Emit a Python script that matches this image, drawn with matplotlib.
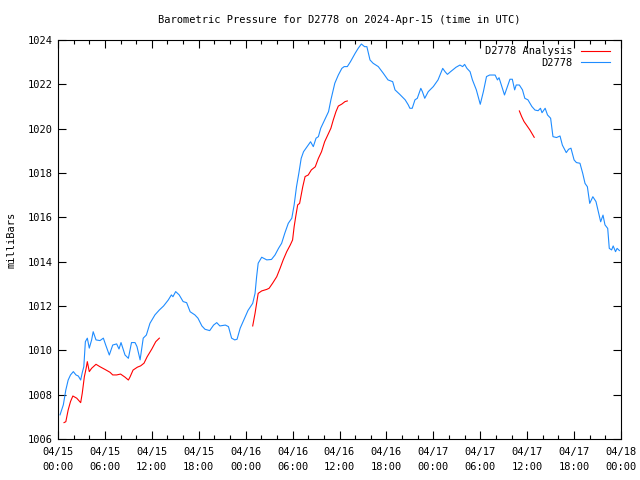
import matplotlib
matplotlib.use("Agg")
import matplotlib.pyplot as plt
from matplotlib.ticker import MultipleLocator

# hours since 2024-04-15 00:00 UTC, pressure in mb
obs_hours = [0.26, 0.68, 1.0, 1.3, 1.6, 1.96, 2.3, 2.6, 2.9, 3.1, 3.3, 3.5, 3.75, 4.0, 4.3,
             4.5, 4.86, 5.37, 5.8, 6.1, 6.56, 7.0, 7.5, 7.8, 8.06, 8.57, 9.0, 9.4, 9.85, 10.1,
             10.5, 10.9, 11.3, 11.76, 12.4, 12.96, 13.5, 14.1, 14.5, 14.7, 15.05, 15.5, 16.0,
             16.45, 16.9, 17.5, 17.9, 18.4, 18.8, 19.4, 19.9, 20.3, 20.7, 21.4, 21.8, 22.2,
             22.6, 22.9, 23.3, 23.8, 24.3, 24.9, 25.2, 25.4, 25.6, 26.05, 26.7, 27.3, 27.75,
             28.2, 28.6, 29.0, 29.45, 29.9, 30.2, 30.5, 30.8, 31.1, 31.4, 32.0, 32.3, 32.65,
             33.0, 33.3, 33.6, 34.1, 34.6, 34.9, 35.4, 35.85, 36.3, 36.6, 37.0, 37.4, 38.0,
             38.4, 38.8, 39.2, 39.5, 39.9, 40.3, 40.96, 41.6, 42.2, 42.8, 43.1, 43.7, 44.4,
             44.8, 45.0, 45.3, 45.65, 45.95, 46.4, 46.6, 46.9, 47.35, 48.0, 48.6, 49.2, 49.5,
             49.8, 50.2, 50.9, 51.4, 51.75, 52.0, 52.3, 52.7, 53.0, 53.5, 54.0, 54.4, 54.8,
             55.2, 55.9, 56.2, 56.4, 56.7, 57.1, 57.4, 57.8, 58.1, 58.4, 58.6, 59.0, 59.4,
             59.7, 60.1, 60.6, 61.0, 61.4, 61.7, 61.9, 62.3, 62.6, 63.0, 63.3, 63.75, 64.2,
             64.5, 65.0, 65.3, 65.6, 66.0, 66.3, 66.75, 67.1, 67.4, 67.7, 68.0, 68.4, 68.8,
             69.1, 69.4, 69.7, 69.95, 70.3, 70.5, 70.8, 71.0, 71.3, 71.5, 71.8]
obs_mb = [1007.09, 1007.54, 1008.21, 1008.66, 1008.89, 1009.04, 1008.89, 1008.84, 1008.66,
          1008.99, 1009.26, 1010.39, 1010.55, 1010.1, 1010.47, 1010.84, 1010.47, 1010.44,
          1010.55, 1010.24, 1009.79, 1010.24, 1010.29, 1010.06, 1010.35, 1009.79, 1009.64,
          1010.35, 1010.35, 1010.17, 1009.57, 1010.55, 1010.69, 1011.22, 1011.6, 1011.82,
          1012.0, 1012.27, 1012.5, 1012.42, 1012.65, 1012.5, 1012.2, 1012.15, 1011.74,
          1011.6, 1011.45, 1011.1, 1010.95, 1010.89, 1011.14, 1011.25, 1011.1, 1011.14,
          1011.07, 1010.55, 1010.47, 1010.5, 1011.0, 1011.4, 1011.8, 1012.12, 1012.57,
          1013.32, 1013.93, 1014.2, 1014.08, 1014.1, 1014.3, 1014.6, 1014.83, 1015.28,
          1015.73, 1015.96, 1016.56, 1017.38, 1017.99, 1018.66, 1018.96, 1019.26, 1019.41,
          1019.19, 1019.57, 1019.64, 1020.02, 1020.39, 1020.77, 1021.3, 1022.05, 1022.42,
          1022.72, 1022.8, 1022.8, 1023.02, 1023.4, 1023.63, 1023.82, 1023.7, 1023.7,
          1023.1, 1022.95, 1022.8, 1022.5, 1022.2, 1022.12, 1021.75, 1021.55, 1021.3,
          1021.07, 1020.92, 1020.92, 1021.3, 1021.37, 1021.82, 1021.67, 1021.37, 1021.67,
          1021.9, 1022.2, 1022.72, 1022.57, 1022.45, 1022.57, 1022.77, 1022.87, 1022.8,
          1022.9, 1022.72, 1022.57, 1022.2, 1021.75, 1021.1, 1021.67, 1022.35, 1022.42,
          1022.42, 1022.2, 1022.3, 1021.97, 1021.52, 1021.82, 1022.23, 1022.23, 1021.75,
          1021.97, 1021.97, 1021.75, 1021.37, 1021.3, 1021.0, 1020.84, 1020.81, 1020.92,
          1020.72, 1020.92, 1020.62, 1020.47, 1019.64, 1019.6, 1019.67, 1019.26, 1018.92,
          1019.07, 1019.12, 1018.59, 1018.47, 1018.44, 1017.99, 1017.53, 1017.38, 1016.63,
          1016.93, 1016.71, 1016.26, 1015.8, 1016.1, 1015.66, 1015.5, 1014.6, 1014.53,
          1014.71, 1014.45, 1014.6, 1014.5]

# analysis segments (three separate runs)
ana1_hours = [0.77, 1.0, 1.3, 1.6, 1.9, 2.4, 2.9, 3.1, 3.37, 3.6, 3.75, 4.0, 4.3, 4.86, 5.37,
              6.0, 6.65, 7.0, 7.5, 8.0, 8.57, 9.0, 9.2, 9.6, 10.15, 10.57, 11.0, 11.4, 12.0,
              12.5, 12.96]
ana1_mb = [1006.74, 1006.78, 1007.31, 1007.69, 1007.94, 1007.84, 1007.64, 1008.06, 1008.81,
           1009.19, 1009.49, 1009.04, 1009.19, 1009.37, 1009.26, 1009.14, 1009.01, 1008.89,
           1008.89, 1008.93, 1008.79, 1008.66, 1008.79, 1009.11, 1009.24, 1009.3, 1009.42,
           1009.71, 1010.06, 1010.39, 1010.55]
ana2_hours = [24.9, 25.2, 25.6, 26.05, 26.7, 27.0, 27.45, 27.97, 28.4, 28.8, 29.25, 29.7, 30.0,
              30.2, 30.4, 30.65, 30.9, 31.3, 31.6, 32.0, 32.4, 32.9, 33.3, 33.7, 34.1, 34.6,
              34.9, 35.2, 35.55, 35.85, 36.3, 36.7, 37.0]
ana2_mb = [1011.1, 1011.67, 1012.57, 1012.68, 1012.75, 1012.8, 1013.03, 1013.32, 1013.7,
           1014.08, 1014.45, 1014.75, 1014.98, 1015.58, 1016.03, 1016.56, 1016.63, 1017.38,
           1017.84, 1017.91, 1018.14, 1018.28, 1018.66, 1018.96, 1019.41, 1019.79, 1020.02,
           1020.39, 1020.77, 1021.02, 1021.11, 1021.22, 1021.25]
ana3_hours = [59.0, 59.3, 59.6, 59.9, 60.35, 60.9]
ana3_mb = [1020.8, 1020.54, 1020.32, 1020.17, 1019.94, 1019.61]

tick_hours = [0, 6, 12, 18, 24, 30, 36, 42, 48, 54, 60, 66, 72]
tick_labels = ["04/15\n00:00", "04/15\n06:00", "04/15\n12:00", "04/15\n18:00",
               "04/16\n00:00", "04/16\n06:00", "04/16\n12:00", "04/16\n18:00",
               "04/17\n00:00", "04/17\n06:00", "04/17\n12:00", "04/17\n18:00",
               "04/18\n00:00"]

plt.rcParams['font.family'] = 'DejaVu Sans Mono'
plt.rcParams['font.size'] = 7.5

fig = plt.figure(figsize=(6.4, 4.8), dpi=100)
ax = fig.add_axes([58 / 640, 41 / 480, 563 / 640, 399 / 480])

red = "#ff0000"
blue = "#1e8cff"
ax.plot(ana1_hours, ana1_mb, color=red, lw=0.8, label="D2778 Analysis")
ax.plot(ana2_hours, ana2_mb, color=red, lw=0.8)
ax.plot(ana3_hours, ana3_mb, color=red, lw=0.8)
ax.plot(obs_hours, obs_mb, color=blue, lw=0.8, label="D2778")

ax.set_xlim(0, 72)
ax.set_ylim(1006, 1024)
ax.set_xticks(tick_hours)
ax.set_xticklabels(tick_labels, linespacing=1.55)
ax.xaxis.set_minor_locator(MultipleLocator(2))
ax.yaxis.set_major_locator(MultipleLocator(2))
ax.tick_params(which="both", direction="in", top=True, right=True, width=0.8)
ax.tick_params(which="major", length=6)
ax.tick_params(axis="x", which="major", pad=6)
ax.tick_params(axis="y", which="major", pad=4)
ax.tick_params(which="minor", length=3)
for s in ax.spines.values():
    s.set_linewidth(0.8)

ax.set_ylabel("milliBars", labelpad=8)
ax.set_title("Barometric Pressure for D2778 on 2024-Apr-15 (time in UTC)", pad=12, fontsize=7.5)

# legend placed top right, text before the line sample like gnuplot
ax.legend(loc="upper right", bbox_to_anchor=(0.983, 0.987), frameon=False, markerfirst=False,
          handlelength=2.8, borderaxespad=0, borderpad=0.1, labelspacing=0.15,
          handletextpad=0.8)

fig.savefig("out.png", dpi=100)
